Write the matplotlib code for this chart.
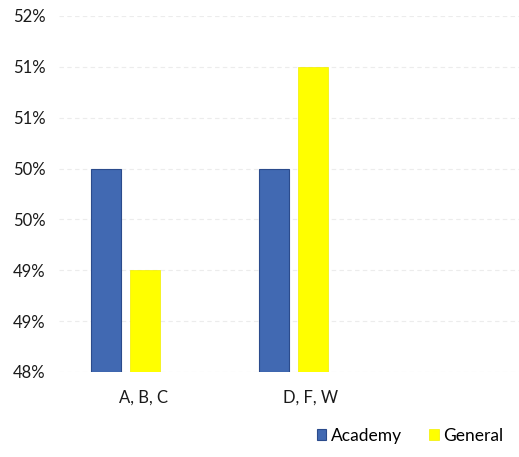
import matplotlib.pyplot as plt
import numpy as np

plt.rcParams['font.family'] = ['Lato', 'DejaVu Sans']

categories = ['A, B, C', 'D, F, W']
academy = [0.50, 0.50]
general = [0.49, 0.51]
y_ticks = [0.48, 0.485, 0.49, 0.495, 0.50, 0.505, 0.51, 0.515]
y_tick_labels = ['48%', '49%', '49%', '50%', '50%', '51%', '51%', '52%']

fig = plt.figure(figsize=(5.19, 4.57), dpi=100)
ax = fig.add_axes([0.114, 0.186, 0.886, 0.779])

x = np.arange(len(categories))
w = 0.178
base = 0.48
ax.bar(x - 0.22, np.array(academy) - base, w, bottom=base, color='#4169b2',
       edgecolor='#2b4b8c', linewidth=0.8, label='Academy', zorder=3)
ax.bar(x + 0.01, np.array(general) - base, w, bottom=base, color='#ffff00',
       edgecolor='#f2ee00', linewidth=0.5, label='General', zorder=3)

ax.set_ylim(0.48, 0.515)
ax.set_xlim(-0.5, 2.24)
ax.set_yticks(y_ticks)
ax.set_yticklabels(y_tick_labels)
ax.set_xticks(x)
ax.set_xticklabels(categories)
ax.tick_params(axis='y', length=0, pad=10, labelsize=12, colors='#1a1a1a')
ax.tick_params(axis='x', length=0, pad=13, labelsize=12, colors='#1a1a1a')
ax.yaxis.grid(True, color='#ececec', linestyle=(0, (4, 3)), linewidth=0.8, zorder=0)
for s in ax.spines.values():
    s.set_visible(False)

fig.legend(loc='lower right', bbox_to_anchor=(1.0, -0.005), ncol=2, frameon=False,
           fontsize=12.5, handlelength=0.55, handleheight=0.55, handletextpad=0.25,
           columnspacing=1.6)

fig.savefig('out.png', dpi=100)
